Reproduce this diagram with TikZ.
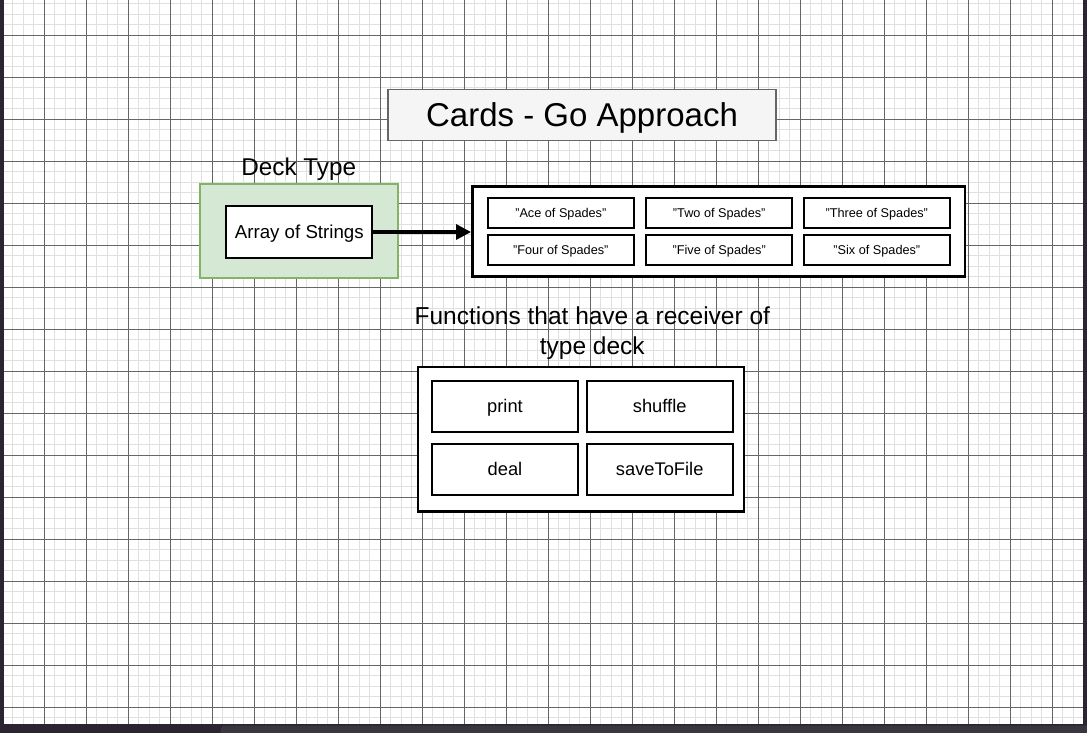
\documentclass[tikz,border=0pt]{standalone}
\usepackage{fontspec}
\setmainfont{Liberation Sans}[Ligatures=NoCommon]
\usetikzlibrary{arrows.meta}
\definecolor{minorgrid}{HTML}{E0E0E0}
\definecolor{majorgrid}{HTML}{666666}
\definecolor{frameband}{HTML}{2A2530}
\definecolor{frameband2}{HTML}{3A3640}
\definecolor{titlefill}{HTML}{F5F5F5}
\definecolor{titledraw}{HTML}{666666}
\definecolor{greenfill}{HTML}{D5E8D4}
\definecolor{greendraw}{HTML}{82B366}
\tikzset{
  titlebox/.style={draw=titledraw, fill=titlefill, line width=1.2pt, inner sep=0pt,
    text height=23.6pt, text depth=0pt,
    minimum width=388pt, minimum height=51.5pt, font=\fontsize{33}{40}\selectfont},
  greenbox/.style={draw=greendraw, fill=greenfill, line width=2pt, inner sep=0pt,
    minimum width=198pt, minimum height=93.5pt},
  container/.style={draw=black, fill=white, line width=2.5pt, inner sep=0pt},
  smallcell/.style={draw=black, fill=white, line width=2pt, inner sep=0pt,
    text height=9.1pt, text depth=0pt,
    minimum width=146.3pt, minimum height=30pt, font=\fontsize{12.7}{15}\selectfont},
  funccell/.style={draw=black, fill=white, line width=2.2pt, inner sep=0pt,
    text height=13.1pt, text depth=0pt,
    minimum width=146pt, minimum height=50.8pt, font=\fontsize{18.3}{22}\selectfont},
  label/.style={inner sep=0pt, font=\fontsize{24.5}{30}\selectfont, align=center},
  connector/.style={draw=black, line width=3.3pt, -{Triangle[length=15pt,width=15pt]}}
}
\newcommand{\qq}{\symbol{34}}
\begin{document}
\begin{tikzpicture}[x=1pt,y=-1pt]
\useasboundingbox (0,0) rectangle (1087,733);
\fill[white] (0,0) rectangle (1087,733);
% minor grid
\begin{scope}[line width=1.2pt, minorgrid]
\foreach \i in {0,...,104} { \draw (2.3+10.5*\i,0) -- (2.3+10.5*\i,733); }
\foreach \j in {0,...,70} { \draw (0,-6.7+10.5*\j) -- (1087,-6.7+10.5*\j); }
\end{scope}
% major grid
\begin{scope}[line width=1pt, majorgrid]
\foreach \i in {0,...,26} { \draw (2.3+42*\i,0) -- (2.3+42*\i,733); }
\foreach \j in {0,...,18} { \draw (0,-6.7+42*\j) -- (1087,-6.7+42*\j); }
\end{scope}
% window frame bands
\fill[frameband] (0,0) rectangle (3.5,733);
\fill[frameband] (1082.7,0) rectangle (1087,733);
\fill[frameband] (0,724) rectangle (1087,733);
\fill[frameband2, rounded corners=4pt] (220.7,725.5) rectangle (1095,740);

% title
\node[titlebox] (title) at (582,115) {Cards - Go Approach};

% deck type
\node[label, text height=17.4pt, text depth=0pt, font=\fontsize{24.3}{30}\selectfont] (decklabel) at (298.7,167.2) {Deck Type};
\node[greenbox] (deck) at (299.3,231) {};
\node[draw=black, fill=white, line width=2pt, inner sep=0pt, minimum width=146pt,
  text height=13.4pt, text depth=0pt,
  minimum height=51.4pt, font=\fontsize{18.7}{22}\selectfont] (arr) at (299.3,232) {Array of Strings};

% array of cards
\node[container, minimum width=492.5pt, minimum height=90pt] (cards) at (718.5,231.5) {};
\node[smallcell] (c1) at (560.8,213.3) {\qq Ace of Spades\qq};
\node[smallcell] (c2) at (719.2,213.3) {\qq Two of Spades\qq};
\node[smallcell] (c3) at (876.8,213.3) {\qq Three of Spades\qq};
\node[smallcell] (c4) at (560.8,249.7) {\qq Four of Spades\qq};
\node[smallcell] (c5) at (719.2,249.7) {\qq Five of Spades\qq};
\node[smallcell] (c6) at (876.8,249.7) {\qq Six of Spades\qq};

\draw[connector] (arr.east) -- (cards.west |- arr.east);

% functions
\node[label] (funclabel) at (592.3,333.5) {Functions that have a receiver of\\type deck};
\node[container, minimum width=325.8pt, minimum height=144.5pt] (funcs) at (580.85,439.2) {};
\node[funccell] (f1) at (505,406.2) {print};
\node[funccell] (f2) at (659.7,406.2) {shuffle};
\node[funccell] (f3) at (505,469.3) {deal};
\node[funccell] (f4) at (659.7,469.3) {saveToFile};
\end{tikzpicture}
\end{document}
